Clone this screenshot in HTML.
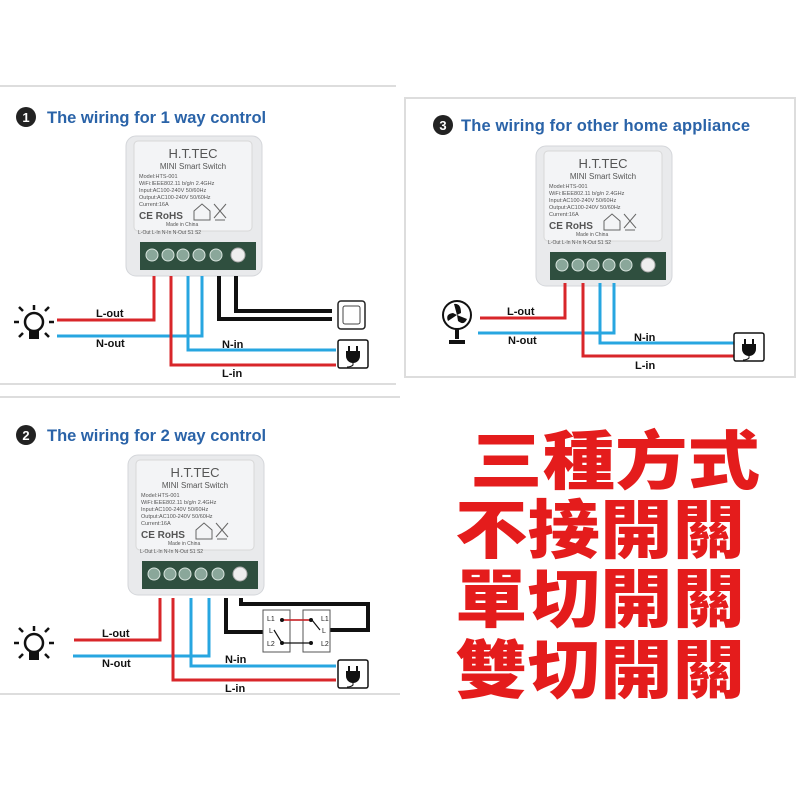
<!DOCTYPE html>
<html><head><meta charset="utf-8"><style>
html,body{margin:0;padding:0;background:#fff;width:800px;height:800px;overflow:hidden}
svg{display:block}
.t{font-family:"Liberation Sans",sans-serif;font-weight:bold;fill:#2a63a8;font-size:16.5px}
.l{font-family:"Liberation Sans",sans-serif;font-weight:bold;fill:#111;font-size:11px}
.cn{font-family:"Noto Sans CJK TC","Noto Sans CJK SC",sans-serif;font-weight:900;fill:#e41c1c;font-size:64px}
.dv{font-family:"Liberation Sans",sans-serif;fill:#555}
</style></head><body>
<svg width="800" height="800" viewBox="0 0 800 800" xmlns="http://www.w3.org/2000/svg">
<defs>
<g id="dev">
  <rect x="0" y="0" width="136" height="140" rx="10" fill="#e9eaec" stroke="#d4d6da"/>
  <rect x="8" y="5" width="118" height="90" rx="4" fill="#f3f4f6" stroke="#d8d8d8"/>
  <text x="67" y="22" class="dv" font-size="13" text-anchor="middle">H.T.TEC</text>
  <text x="67" y="33" class="dv" font-size="8" text-anchor="middle">MINI Smart Switch</text>
  <text x="13" y="42" class="dv" font-size="5.5">Model:HTS-001</text>
  <text x="13" y="49" class="dv" font-size="5.5">WiFi:IEEE802.11 b/g/n 2.4GHz</text>
  <text x="13" y="56" class="dv" font-size="5.5">Input:AC100-240V 50/60Hz</text>
  <text x="13" y="63" class="dv" font-size="5.5">Output:AC100-240V 50/60Hz</text>
  <text x="13" y="70" class="dv" font-size="5.5">Current:16A</text>
  <text x="13" y="83" class="dv" font-size="10" font-weight="bold">CE RoHS</text>
  <path d="M68 84 v-9 l8-7 8 7 v9z" fill="none" stroke="#666"/>
  <path d="M88 68 l12 14 M100 68 l-12 14 M89 84 h10" stroke="#666" fill="none"/>
  <text x="40" y="90" class="dv" font-size="5">Made in China</text>
  <text x="12" y="98" class="dv" font-size="5">L-Out  L-In  N-In  N-Out  S1    S2</text>
  <rect x="14" y="106" width="116" height="28" fill="#2f4f3f"/>
  <g fill="#8aa79a" stroke="#d8e4de" stroke-width="1">
    <circle cx="26" cy="119" r="6"/><circle cx="42" cy="119" r="6"/><circle cx="57" cy="119" r="6"/>
    <circle cx="73" cy="119" r="6"/><circle cx="90" cy="119" r="6"/>
  </g>
  <circle cx="112" cy="119" r="7" fill="#eee" stroke="#aaa"/>
</g>
<g id="plug">
  <rect x="0" y="0" width="30" height="28" rx="2" fill="#fff" stroke="#111" stroke-width="1.5"/>
  <path d="M11 6v6 M19 6v6" stroke="#111" stroke-width="2"/>
  <path d="M8 11h14v5a7 7 0 0 1-14 0z" fill="#111"/>
  <path d="M15 22v3 q-2 2-6 2" stroke="#111" fill="none"/>
</g>
<g id="bulb">
  <circle cx="0" cy="-4" r="9" fill="none" stroke="#111" stroke-width="2.5"/>
  <rect x="-5" y="5" width="10" height="8" fill="#111"/>
  <path d="M0-21v5 M-15-4h-5 M15-4h5 M-11-15l-4-4 M11-15l4-4 M-11 7l-4 4 M11 7l4 4" stroke="#111" stroke-width="2.5"/>
</g>
</defs>

<!-- panel 1 -->
<path d="M0 86H396 M0 384H396" stroke="#ddd" stroke-width="2"/>
<circle cx="26" cy="117" r="10" fill="#222"/><text x="26" y="122" font-family="Liberation Sans" font-weight="bold" font-size="13" fill="#fff" text-anchor="middle">1</text>
<text x="47" y="123" class="t">The wiring for 1 way control</text>
<use href="#dev" x="126" y="136"/>
<g fill="none" stroke-width="3">
<path d="M154 276V320H57" stroke="#d8262a"/>
<path d="M202 276V336H57" stroke="#27a6e0"/>
<path d="M188 276V350H336" stroke="#27a6e0"/>
<path d="M171 276V365H336" stroke="#d8262a"/>
<path d="M219 276V319H332" stroke="#111" stroke-width="4"/>
<path d="M236 276V311H332" stroke="#111" stroke-width="4"/>
</g>
<rect x="338" y="301" width="27" height="28" rx="3" fill="#fff" stroke="#222" stroke-width="1.5"/>
<rect x="343" y="306" width="17" height="18" rx="2" fill="#fff" stroke="#444"/>
<use href="#plug" x="338" y="340"/>
<use href="#bulb" x="34" y="326"/>
<text x="96" y="317" class="l">L-out</text><text x="96" y="347" class="l">N-out</text>
<text x="222" y="348" class="l">N-in</text><text x="222" y="377" class="l">L-in</text>

<!-- panel 3 -->
<rect x="405" y="98" width="390" height="279" fill="none" stroke="#ddd" stroke-width="2"/>
<circle cx="443" cy="125" r="10" fill="#222"/><text x="443" y="130" font-family="Liberation Sans" font-weight="bold" font-size="13" fill="#fff" text-anchor="middle">3</text>
<text x="461" y="131" class="t" textLength="289">The wiring for other home appliance</text>
<use href="#dev" x="536" y="146"/>
<g fill="none" stroke-width="3">
<path d="M565 283V318H480" stroke="#d8262a"/>
<path d="M614 283V333H478" stroke="#27a6e0"/>
<path d="M600 283V343H734" stroke="#27a6e0"/>
<path d="M583 283V356H734" stroke="#d8262a"/>
</g>
<use href="#plug" x="734" y="333"/>
<g transform="translate(457,315)">
<circle r="14" fill="#fff" stroke="#111" stroke-width="2"/>
<path d="M0 0 L-3-11 Q4-12 4-2Z M0 0 L10 4 Q7 11 1 6Z M0 0 L-9 6 Q-12-1-4-2Z" fill="#111"/>
<path d="M0 14v10 M-8 27h16" stroke="#111" stroke-width="4"/>
</g>
<text x="507" y="315" class="l">L-out</text><text x="508" y="344" class="l">N-out</text>
<text x="634" y="341" class="l">N-in</text><text x="635" y="369" class="l">L-in</text>

<!-- panel 2 -->
<path d="M0 397H400 M0 694H400" stroke="#ddd" stroke-width="2"/>
<circle cx="26" cy="435" r="10" fill="#222"/><text x="26" y="440" font-family="Liberation Sans" font-weight="bold" font-size="13" fill="#fff" text-anchor="middle">2</text>
<text x="47" y="441" class="t">The wiring for 2 way control</text>
<use href="#dev" x="128" y="455"/>
<g fill="none" stroke-width="3">
<path d="M160 598V640H74" stroke="#d8262a"/>
<path d="M209 598V656H73" stroke="#27a6e0"/>
<path d="M191 598V666H336" stroke="#27a6e0"/>
<path d="M173 598V680H336" stroke="#d8262a"/>
<path d="M226 598V632H268" stroke="#111" stroke-width="4"/>
<path d="M241 598V604H368V630H330" stroke="#111" stroke-width="4"/>
</g>
<g font-family="Liberation Sans" font-size="7" fill="#222">
<rect x="263" y="610" width="27" height="42" fill="#fff" stroke="#555"/>
<rect x="303" y="610" width="27" height="42" fill="#fff" stroke="#555"/>
<text x="267" y="621">L1</text><text x="269" y="633">L</text><text x="267" y="646">L2</text>
<text x="321" y="621">L1</text><text x="322" y="633">L</text><text x="321" y="646">L2</text>
<path d="M282 620H311 M282 643H311 M274 630l8 13 M320 630l-8-10" stroke="#111" stroke-width="1.2"/>
<path d="M282 620H311" stroke="#d8262a" stroke-width="1.5"/>
<circle cx="282" cy="620" r="2" fill="#111"/><circle cx="311" cy="620" r="2" fill="#111"/>
<circle cx="282" cy="643" r="2" fill="#111"/><circle cx="311" cy="643" r="2" fill="#111"/>
</g>
<use href="#plug" x="338" y="660"/>
<use href="#bulb" x="34" y="647"/>
<text x="102" y="637" class="l">L-out</text><text x="102" y="667" class="l">N-out</text>
<text x="225" y="663" class="l">N-in</text><text x="225" y="692" class="l">L-in</text>

<!-- chinese text -->
<text x="470" y="484" class="cn" textLength="290" lengthAdjust="spacingAndGlyphs">三種方式</text>
<text x="455" y="553" class="cn" textLength="290" lengthAdjust="spacingAndGlyphs">不接開關</text>
<text x="455" y="622" class="cn" textLength="290" lengthAdjust="spacingAndGlyphs">單切開關</text>
<text x="455" y="693" class="cn" textLength="290" lengthAdjust="spacingAndGlyphs">雙切開關</text>
</svg>
</body></html>
